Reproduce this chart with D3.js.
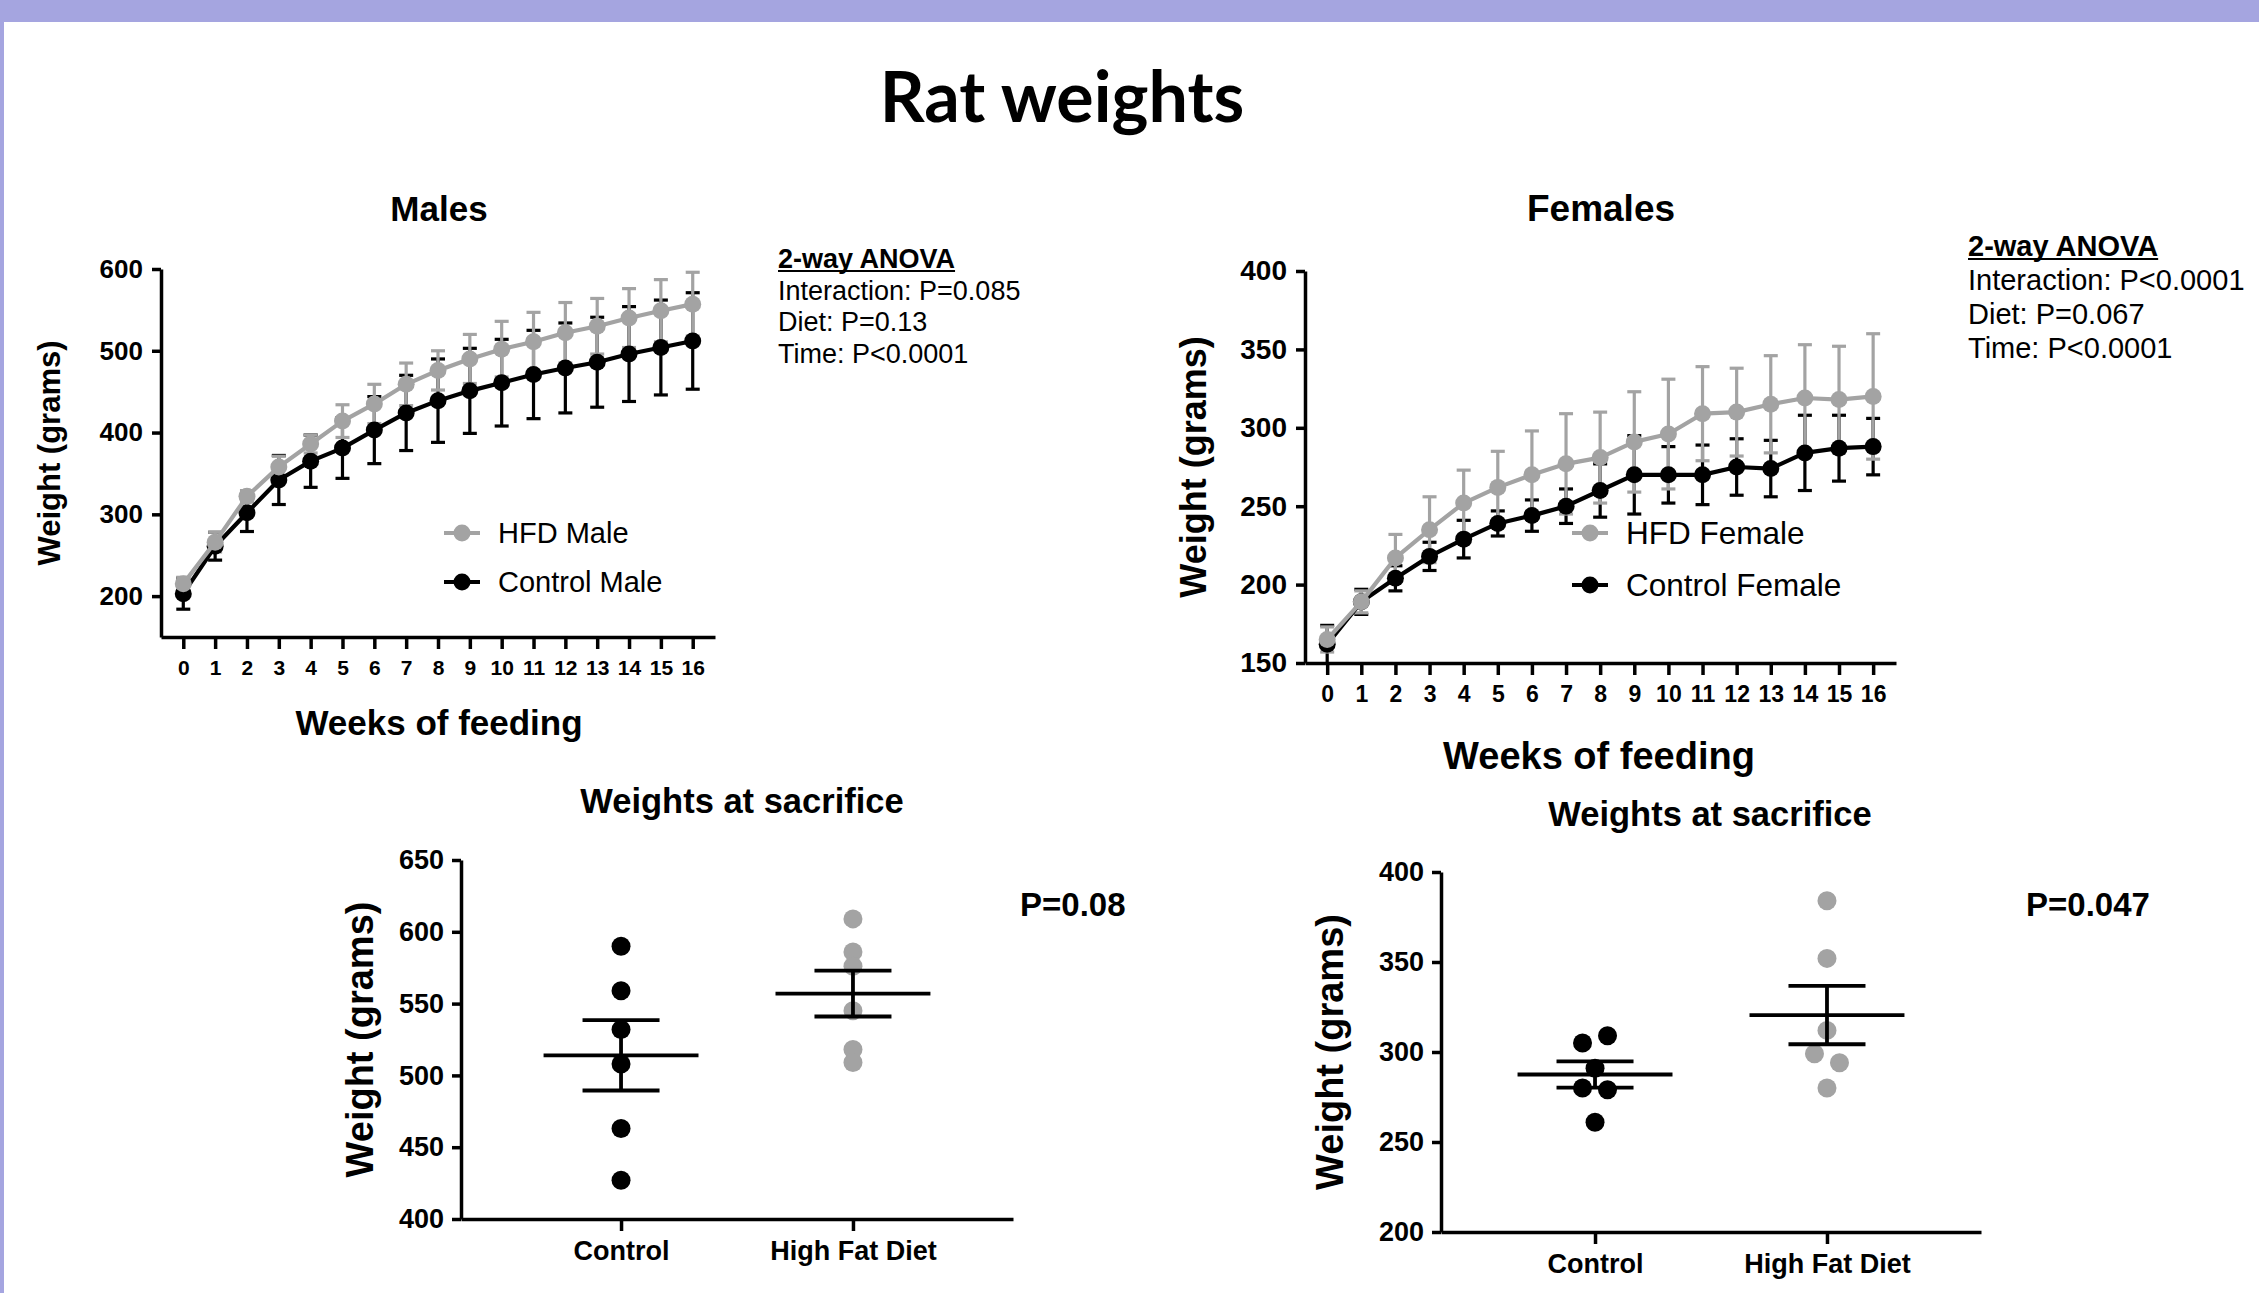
<!DOCTYPE html>
<html>
<head>
<meta charset="utf-8">
<script src="https://cdn.jsdelivr.net/npm/d3@7"></script>
<style>
  body { margin: 0; background: #fff; }
  svg { display: block; }
  text { font-family: "Liberation Sans", Arial, sans-serif; }
</style>
</head>
<body>
<script>

// ---- data ----
var weeks = [0, 1, 2, 3, 4, 5, 6, 7, 8, 9, 10, 11, 12, 13, 14, 15, 16];

var hfdMaleMean  = [215, 266, 322, 358, 386, 414, 435, 459, 476, 490, 502, 511, 522, 530, 540, 549, 557];
var hfdMaleSem   = [8, 12, 7, 13, 11, 20, 24, 26, 24, 30, 34, 36, 37, 34, 36, 38, 39];
var ctrlMaleMean = [203, 261, 302, 342, 365, 381, 403, 424, 439, 451, 461, 471, 479, 486, 496, 504, 512];
var ctrlMaleSem  = [19, 17, 23, 30, 32, 37, 41, 46, 51, 52, 53, 54, 55, 55, 58, 58, 59];

var hfdFemaleMean  = [165, 189, 217, 235, 252, 262, 270, 277, 281, 291, 296, 309, 310, 315, 319, 318, 320];
var hfdFemaleSem   = [8, 7, 15, 21, 21, 23, 28, 32, 29, 32, 35, 30, 28, 31, 34, 34, 40];
var ctrlFemaleMean = [162, 189, 204, 218, 229, 239, 244, 250, 260, 270, 270, 270, 275, 274, 284, 287, 288];
var ctrlFemaleSem  = [12, 8, 8, 9, 12, 8, 10, 11, 17, 25, 18, 19, 18, 18, 24, 21, 18];

var groups = ["Control", "High Fat Diet"];
var maleCtrlWeights   = [590, 559, 532, 508, 463, 427];
var maleHfdWeights    = [609, 586, 576, 545, 518, 509];
var maleGroupMean     = [514, 557];
var maleGroupSem      = [24.5, 16];
var femaleCtrlWeights = [305, 309, 291, 280, 279, 261];
var femaleHfdWeights  = [384, 352, 312, 299, 294, 280];
var femaleGroupMean   = [287.5, 320.5];
var femaleGroupSem    = [7.3, 16.2];

var maleAnova   = ["Interaction: P=0.085", "Diet: P=0.13", "Time: P<0.0001"];
var femaleAnova = ["Interaction: P<0.0001", "Diet: P=0.067", "Time: P<0.0001"];

// little side-by-side spread for overlapping dots (female panel)
var femaleCtrlSpread = [-1, 1, 0, -1, 1, 0];
var femaleHfdSpread  = [0, 0, 0, -1, 1, 0];
var noSpread = [0, 0, 0, 0, 0, 0];

var grey = "#a3a3a3";
var purple = "#a5a5e0";

var svg = d3.select("body")
  .append("svg")
  .attr("width", 2259)
  .attr("height", 1293);

svg.append("rect").attr("x", 0).attr("y", 0).attr("width", 2259).attr("height", 1293).attr("fill", "#fff");
svg.append("rect").attr("x", 0).attr("y", 0).attr("width", 2259).attr("height", 22).attr("fill", purple);
svg.append("rect").attr("x", 0).attr("y", 0).attr("width", 4).attr("height", 1293).attr("fill", purple);

svg.append("text")
  .attr("x", 1062).attr("y", 122)
  .attr("text-anchor", "middle")
  .style("font-family", "Lato, 'Open Sans', sans-serif")
  .style("font-weight", "bold")
  .style("font-size", "70px")
  .text("Rat weights");

function styleAxis(g, fontSize) {
  g.select(".domain").attr("stroke", "#000").attr("stroke-width", 3.5);
  g.selectAll(".tick line").attr("stroke", "#000").attr("stroke-width", 3.5);
  g.selectAll(".tick text")
    .attr("fill", "#000")
    .style("font-size", fontSize + "px")
    .style("font-weight", "bold")
    .style("font-family", "'Liberation Sans', Arial, sans-serif");
}

function anovaBlock(x, y, lines, size, gap) {
  var t = svg.append("text")
    .attr("x", x).attr("y", y)
    .style("font-size", size + "px")
    .style("font-weight", "bold")
    .text("2-way ANOVA");
  var w = t.node().getComputedTextLength();
  svg.append("line")
    .attr("x1", x).attr("x2", x + w)
    .attr("y1", y + 3).attr("y2", y + 3)
    .attr("stroke", "#000").attr("stroke-width", 2);
  lines.forEach(function(s, i) {
    svg.append("text")
      .attr("x", x).attr("y", y + gap * (i + 1))
      .style("font-size", size + "px")
      .text(s);
  });
}

function timePanel(cfg) {
  var xScale = d3.scaleLinear()
    .domain(cfg.xDomain)
    .range([cfg.left, cfg.right]);
  var yScale = d3.scaleLinear()
    .domain(cfg.yDomain)
    .range([cfg.bottom, cfg.top]);

  var xAxis = svg.append("g")
    .attr("transform", `translate(0, ${cfg.bottom})`)
    .call(d3.axisBottom(xScale).tickValues(weeks).tickSize(12).tickSizeOuter(0).tickPadding(11));
  styleAxis(xAxis, cfg.xFont);

  var yAxis = svg.append("g")
    .attr("transform", `translate(${cfg.left},0)`)
    .call(d3.axisLeft(yScale).tickValues(cfg.yTicks).tickSize(9).tickSizeOuter(0).tickPadding(9));
  styleAxis(yAxis, cfg.yFont);

  var series = cfg.series;

  // error bars first
  series.forEach(function(s) {
    var g = svg.append("g").attr("stroke", s.color).attr("stroke-width", 3.2);
    weeks.forEach(function(w, i) {
      var cx = xScale(w);
      var lo = yScale(Math.max(cfg.yDomain[0], s.mean[i] - s.sem[i]));
      var hi = yScale(s.mean[i] + s.sem[i]);
      g.append("line").attr("x1", cx).attr("x2", cx).attr("y1", lo).attr("y2", hi);
      g.append("line").attr("x1", cx - 7).attr("x2", cx + 7).attr("y1", hi).attr("y2", hi);
      if (s.mean[i] - s.sem[i] > cfg.yDomain[0])
        g.append("line").attr("x1", cx - 7).attr("x2", cx + 7).attr("y1", lo).attr("y2", lo);
    });
  });

  var line = d3.line()
    .x(function(d, i) { return xScale(weeks[i]); })
    .y(function(d) { return yScale(d); });

  series.forEach(function(s) {
    svg.append("path")
      .datum(s.mean)
      .attr("d", line)
      .attr("fill", "none")
      .attr("stroke", s.color)
      .attr("stroke-width", 4.2)
      .attr("stroke-linejoin", "round");
    svg.append("g").selectAll("circle")
      .data(s.mean)
      .enter()
      .append("circle")
        .attr("cx", function(d, i) { return xScale(weeks[i]); })
        .attr("cy", function(d) { return yScale(d); })
        .attr("r", 8.5)
        .attr("fill", s.color);
  });

  // legend (HFD first)
  [series[1], series[0]].forEach(function(s, i) {
    var ly = cfg.legendY[i];
    svg.append("line")
      .attr("x1", cfg.legendX).attr("x2", cfg.legendX + 36)
      .attr("y1", ly).attr("y2", ly)
      .attr("stroke", s.color).attr("stroke-width", 4.2);
    svg.append("circle").attr("cx", cfg.legendX + 18).attr("cy", ly).attr("r", 8.5).attr("fill", s.color);
    svg.append("text")
      .attr("x", cfg.legendX + 54).attr("y", ly + cfg.legendFont * 0.36)
      .style("font-size", cfg.legendFont + "px")
      .text(s.name);
  });

  svg.append("text")
    .attr("x", cfg.titleX).attr("y", cfg.titleY)
    .attr("text-anchor", "middle")
    .style("font-size", cfg.titleFont + "px").style("font-weight", "bold")
    .text(cfg.title);

  svg.append("text")
    .attr("x", cfg.xLabelX).attr("y", cfg.xLabelY)
    .attr("text-anchor", "middle")
    .style("font-size", cfg.labelFont + "px").style("font-weight", "bold")
    .text("Weeks of feeding");

  svg.append("text")
    .attr("transform", `translate(${cfg.yLabelX},${(cfg.top + cfg.bottom) / 2}) rotate(-90)`)
    .attr("text-anchor", "middle")
    .style("font-size", cfg.yLabelFont + "px").style("font-weight", "bold")
    .text("Weight (grams)");
}

function sacrificePanel(cfg) {
  var xScale = d3.scalePoint()
    .domain(groups)
    .range([cfg.left, cfg.right])
    .padding(cfg.pad);
  var yScale = d3.scaleLinear()
    .domain(cfg.yDomain)
    .range([cfg.bottom, cfg.top]);
  var step = xScale.step();

  var xAxis = svg.append("g")
    .attr("transform", `translate(0, ${cfg.bottom})`)
    .call(d3.axisBottom(xScale).tickSize(12).tickSizeOuter(0).tickPadding(10));
  styleAxis(xAxis, 27);

  var yAxis = svg.append("g")
    .attr("transform", `translate(${cfg.left},0)`)
    .call(d3.axisLeft(yScale).ticks(5).tickSize(9).tickSizeOuter(0).tickPadding(8));
  styleAxis(yAxis, 27);

  cfg.points.forEach(function(p, k) {
    var cx = xScale(groups[k]);
    svg.append("g").selectAll("circle")
      .data(p.values)
      .enter()
      .append("circle")
        .attr("cx", function(d, i) { return cx + p.spread[i] * 12.5; })
        .attr("cy", function(d) { return yScale(d); })
        .attr("r", 9.5)
        .attr("fill", p.color);
  });

  groups.forEach(function(gname, k) {
    var cx = xScale(gname);
    var m = cfg.mean[k], s = cfg.sem[k];
    var g = svg.append("g").attr("stroke", "#000").attr("stroke-width", 3.8);
    g.append("line").attr("x1", cx - step * 0.334).attr("x2", cx + step * 0.334)
      .attr("y1", yScale(m)).attr("y2", yScale(m));
    g.append("line").attr("x1", cx).attr("x2", cx)
      .attr("y1", yScale(m - s)).attr("y2", yScale(m + s));
    g.append("line").attr("x1", cx - step * 0.166).attr("x2", cx + step * 0.166)
      .attr("y1", yScale(m + s)).attr("y2", yScale(m + s));
    g.append("line").attr("x1", cx - step * 0.166).attr("x2", cx + step * 0.166)
      .attr("y1", yScale(m - s)).attr("y2", yScale(m - s));
  });

  svg.append("text")
    .attr("x", cfg.titleX).attr("y", cfg.titleY)
    .attr("text-anchor", "middle")
    .style("font-size", "34.5px").style("font-weight", "bold")
    .text("Weights at sacrifice");

  svg.append("text")
    .attr("transform", `translate(${cfg.yLabelX},${(cfg.top + cfg.bottom) / 2}) rotate(-90)`)
    .attr("text-anchor", "middle")
    .style("font-size", "38px").style("font-weight", "bold")
    .text("Weight (grams)");

  svg.append("text")
    .attr("x", cfg.pX).attr("y", cfg.pY)
    .style("font-size", "33px").style("font-weight", "bold")
    .text(cfg.pText);
}

timePanel({
  title: "Males", titleX: 439, titleY: 221, titleFont: 35,
  left: 161, right: 715, top: 269, bottom: 637,
  xDomain: [-0.7, 16.7], yDomain: [150, 600], yTicks: [200, 300, 400, 500, 600],
  xFont: 21, yFont: 26,
  series: [
    { name: "Control Male", mean: ctrlMaleMean, sem: ctrlMaleSem, color: "#000" },
    { name: "HFD Male", mean: hfdMaleMean, sem: hfdMaleSem, color: grey }
  ],
  legendX: 444, legendY: [533, 582], legendFont: 29,
  xLabelX: 439, xLabelY: 735, labelFont: 35,
  yLabelX: 60, yLabelFont: 31
});

timePanel({
  title: "Females", titleX: 1601, titleY: 221, titleFont: 37,
  left: 1305, right: 1896, top: 271, bottom: 663,
  xDomain: [-0.65, 16.67], yDomain: [150, 400], yTicks: [150, 200, 250, 300, 350, 400],
  xFont: 23, yFont: 28,
  series: [
    { name: "Control Female", mean: ctrlFemaleMean, sem: ctrlFemaleSem, color: "#000" },
    { name: "HFD Female", mean: hfdFemaleMean, sem: hfdFemaleSem, color: grey }
  ],
  legendX: 1572, legendY: [533, 585], legendFont: 31.5,
  xLabelX: 1599, xLabelY: 769, labelFont: 38,
  yLabelX: 1206, yLabelFont: 36
});

anovaBlock(778, 268, maleAnova, 27, 31.5);
anovaBlock(1968, 256, femaleAnova, 29, 34);

sacrificePanel({
  left: 461, right: 1013, top: 860, bottom: 1219, pad: 0.69,
  yDomain: [400, 650],
  points: [
    { values: maleCtrlWeights, color: "#000", spread: noSpread },
    { values: maleHfdWeights, color: grey, spread: noSpread }
  ],
  mean: maleGroupMean, sem: maleGroupSem,
  titleX: 742, titleY: 813, yLabelX: 373,
  pText: "P=0.08", pX: 1020, pY: 916
});

sacrificePanel({
  left: 1441, right: 1981, top: 872, bottom: 1232, pad: 0.664,
  yDomain: [200, 400],
  points: [
    { values: femaleCtrlWeights, color: "#000", spread: femaleCtrlSpread },
    { values: femaleHfdWeights, color: grey, spread: femaleHfdSpread }
  ],
  mean: femaleGroupMean, sem: femaleGroupSem,
  titleX: 1710, titleY: 826, yLabelX: 1343,
  pText: "P=0.047", pX: 2026, pY: 916
});

</script>
</body>
</html>
